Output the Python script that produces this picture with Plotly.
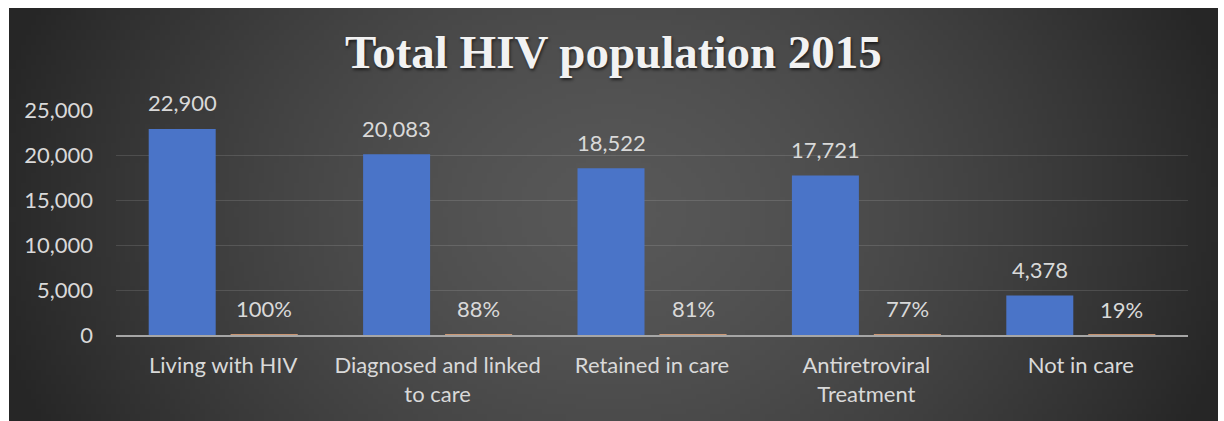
import base64
import struct
import zlib

import numpy as np
import plotly.graph_objects as go

# ---------------- data ----------------
categories = [
    "Living with HIV",
    "Diagnosed and linked<br>to care",
    "Retained in care",
    "Antiretroviral<br>Treatment",
    "Not in care",
]
population = [22900, 20083, 18522, 17721, 4378]
share = [1.00, 0.88, 0.81, 0.77, 0.19]
y_ticks = [0, 5000, 10000, 15000, 20000, 25000]

# ---------------- layout geometry (pixels) ----------------
W, H = 1224, 421
ML, MR, MT, MB = 116, 36, 110, 86
PW, PH = W - ML - MR, H - MT - MB
PANEL_L, PANEL_T, PANEL_R, PANEL_B = 9, 8, 1218, 421

BARGAP = 0.235
BARGROUPGAP = 0.183
SLOT_OFF = (1 - BARGAP) / 4  # centre offset of each bar in the group

LABEL_COLOR = "#d9d9d9"
FONT = "Lato"
FS = 22


# ---------------- decorative radial background (png) ----------------
def background_png():
    iw, ih = 244, 84
    xs = (np.arange(iw) + 0.5) / iw * (PANEL_R - PANEL_L)
    ys = (np.arange(ih) + 0.5) / ih * (PANEL_B - PANEL_T)
    X, Y = np.meshgrid(xs, ys)
    cx, cy = 605.0, 205.0
    r = np.sqrt(((X - cx) / 620.0) ** 2 + ((Y - cy) / 500.0) ** 2)
    v = 88 - 48 * r ** 1.5
    v = np.clip(v, 38, 90).astype(np.uint8)
    rgb = np.stack([v, v, v], axis=-1)
    raw = b"".join(b"\x00" + rgb[j].tobytes() for j in range(ih))

    def chunk(t, d):
        return struct.pack(">I", len(d)) + t + d + struct.pack(">I", zlib.crc32(t + d) & 0xFFFFFFFF)

    png = (
        b"\x89PNG\r\n\x1a\n"
        + chunk(b"IHDR", struct.pack(">IIBBBBB", iw, ih, 8, 2, 0, 0, 0))
        + chunk(b"IDAT", zlib.compress(raw, 9))
        + chunk(b"IEND", b"")
    )
    return "data:image/png;base64," + base64.b64encode(png).decode()


fig = go.Figure()
fig.add_bar(
    x=categories,
    y=population,
    name="Population",
    marker=dict(color="#4a74c8", line=dict(width=0)),
    hoverinfo="skip",
)
fig.add_bar(
    x=categories,
    y=share,
    name="Share",
    marker=dict(color="#f4b183", line=dict(color="#f4b183", width=1)),
    hoverinfo="skip",
)

annotations = []
for i, v in enumerate(population):
    annotations.append(dict(
        x=i - SLOT_OFF, y=v, xref="x", yref="y", text=f"{v:,}",
        showarrow=False, yanchor="middle", yshift=26,
        font=dict(family=FONT, size=FS, color=LABEL_COLOR),
    ))
for i, v in enumerate(share):
    annotations.append(dict(
        x=i + SLOT_OFF, y=v, xref="x", yref="y", text=f"{v:.0%}",
        showarrow=False, yanchor="middle", yshift=26,
        font=dict(family=FONT, size=FS, color=LABEL_COLOR),
    ))

fig.update_layout(
    width=W,
    height=H,
    margin=dict(l=ML, r=MR, t=MT, b=MB, pad=0),
    paper_bgcolor="white",
    plot_bgcolor="rgba(0,0,0,0)",
    showlegend=False,
    barmode="group",
    bargap=BARGAP,
    bargroupgap=BARGROUPGAP,
    title=dict(
        text="<b>Total HIV population 2015</b>",
        x=(PANEL_L + PANEL_R) / 2 / W,
        xref="container",
        xanchor="center",
        y=(H - 52) / H,
        yref="container",
        yanchor="middle",
        font=dict(family="Liberation Serif", size=47, color="#f2f2f2",
                  shadow="1px 2px 3px rgba(0,0,0,0.6)"),
    ),
    xaxis=dict(
        showgrid=False,
        showline=True,
        linecolor="#a6a6a6",
        linewidth=2,
        ticks="",
        tickfont=dict(family=FONT, size=FS, color=LABEL_COLOR),
        ticklabelstandoff=10,
        zeroline=False,
    ),
    yaxis=dict(
        range=[0, 25000],
        tickvals=y_ticks,
        tickformat=",",
        showgrid=True,
        gridcolor="rgba(255,255,255,0.12)",
        gridwidth=1,
        zeroline=False,
        ticks="",
        tickfont=dict(family=FONT, size=FS, color=LABEL_COLOR),
        ticklabelstandoff=22,
    ),
    annotations=annotations,
    images=[dict(
        source=background_png(),
        xref="paper", yref="paper",
        x=(PANEL_L - ML) / PW,
        y=1 + (MT - PANEL_T) / PH,
        sizex=(PANEL_R - PANEL_L) / PW,
        sizey=(PANEL_B - PANEL_T) / PH,
        xanchor="left", yanchor="top",
        sizing="stretch",
        layer="below",
    )],
)

fig.write_html("out.html")
